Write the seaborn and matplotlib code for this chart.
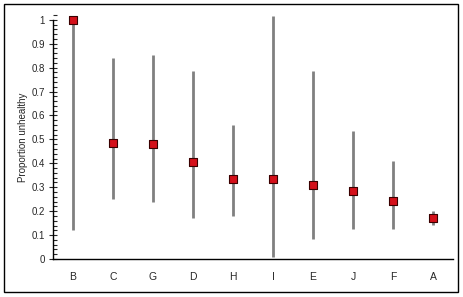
import matplotlib
matplotlib.use("Agg")
import matplotlib.pyplot as plt
import seaborn as sns
import pandas as pd
from matplotlib.patches import Rectangle
from matplotlib.ticker import MultipleLocator

categories = ["B", "C", "G", "D", "H", "I", "E", "J", "F", "A"]
proportion = [1.0, 0.484, 0.481, 0.405, 0.335, 0.335, 0.311, 0.283, 0.241, 0.172]
lower = [0.121, 0.25, 0.237, 0.173, 0.181, 0.007, 0.082, 0.127, 0.127, 0.144]
upper = [1.0, 0.84, 0.854, 0.787, 0.559, 1.017, 0.787, 0.534, 0.409, 0.2]

df = pd.DataFrame({"cat": categories, "p": proportion, "lo": lower, "hi": upper})

sns.set_style("white")
plt.rcParams["font.family"] = ["Liberation Sans", "DejaVu Sans"]

fig = plt.figure(figsize=(4.64, 2.97), dpi=100)
ax = fig.add_axes([53/464, 1-259/297, 400/464, 244/297])

ax.vlines(df["cat"], df["lo"], df["hi"], color="#808080", linewidth=2.0, zorder=1)
sns.scatterplot(data=df, x="cat", y="p", marker="s", s=32, color="#D4101A",
                edgecolor="#3a0000", linewidth=0.8, ax=ax, zorder=3)

ax.set_xlim(-0.5, 9.5)
ax.set_ylim(0, 1.02)
ax.set_xlabel("")
ax.set_ylabel("Proportion unhealthy", fontsize=7, labelpad=2)
ax.yaxis.set_major_locator(MultipleLocator(0.1))
ax.yaxis.set_minor_locator(MultipleLocator(0.02))
ax.set_yticks([0, 0.1, 0.2, 0.3, 0.4, 0.5, 0.6, 0.7, 0.8, 0.9, 1.0])
ax.set_yticklabels(["0", "0.1", "0.2", "0.3", "0.4", "0.5", "0.6", "0.7", "0.8", "0.9", "1"])
ax.tick_params(axis="y", which="major", direction="inout", length=6, width=0.8,
               labelsize=7, pad=3, left=True)
ax.tick_params(axis="y", which="minor", direction="in", length=3, width=0.8, left=True)
ax.tick_params(axis="x", which="both", length=0, labelsize=7.5, pad=9)

for s in ["top", "right"]:
    ax.spines[s].set_visible(False)
ax.spines["left"].set_bounds(0, 1)
for s in ["left", "bottom"]:
    ax.spines[s].set_color("black")
    ax.spines[s].set_linewidth(1)

fig.patches.append(Rectangle((4/464, 1-292/297), 454/464, 288/297, transform=fig.transFigure,
                             fill=False, edgecolor="black", linewidth=1))

fig.savefig("out.png", dpi=100)
